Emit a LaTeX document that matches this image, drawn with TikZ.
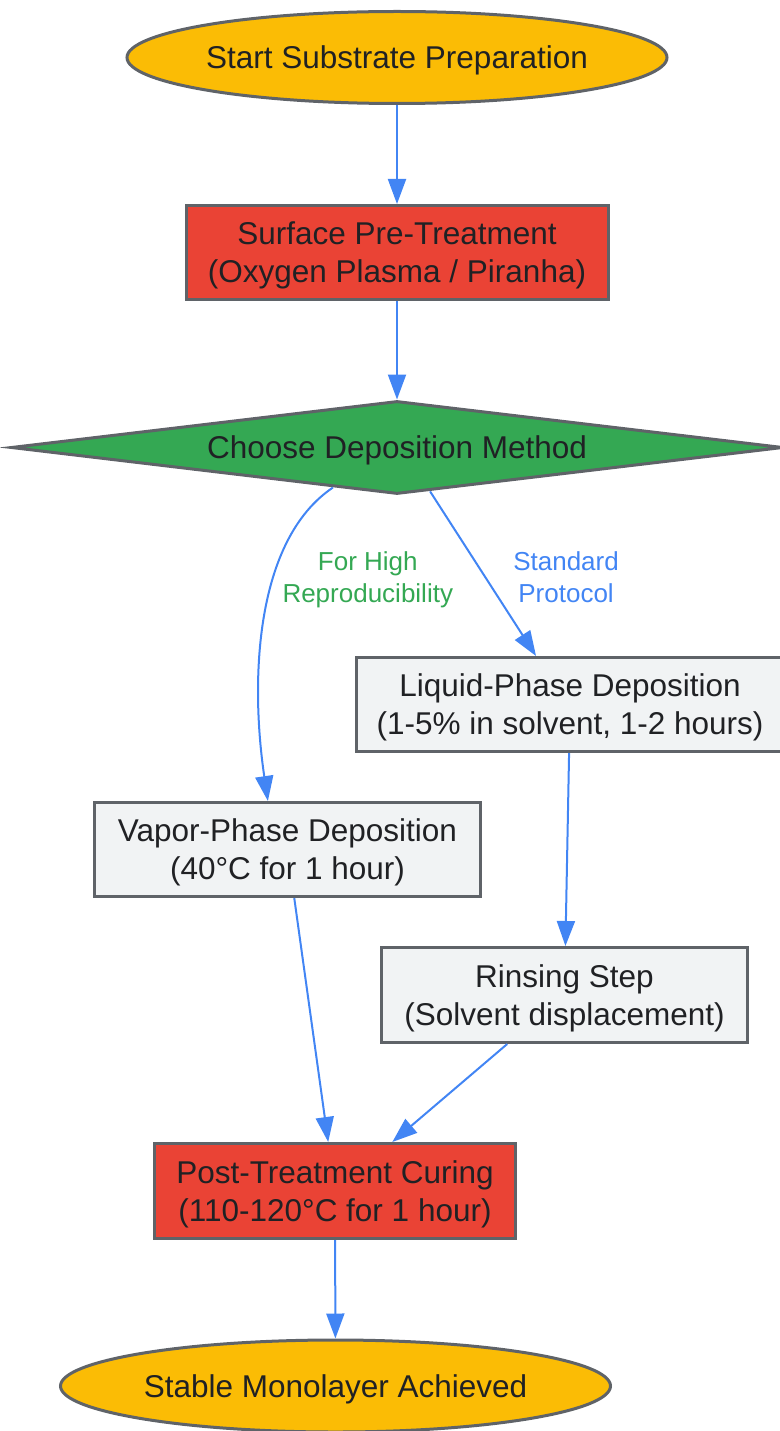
\documentclass[tikz,border=0pt]{standalone}
\usepackage{fontspec}
\setmainfont{Liberation Sans}
\usetikzlibrary{shapes.geometric,arrows.meta}
\definecolor{gyellow}{HTML}{FBBC05}
\definecolor{gred}{HTML}{EA4335}
\definecolor{ggreen}{HTML}{34A853}
\definecolor{gblue}{HTML}{4285F4}
\definecolor{glight}{HTML}{F1F3F4}
\definecolor{gedge}{HTML}{5F6368}
\definecolor{gtext}{HTML}{202124}
\tikzset{every node/.style={align=center}, >={Triangle[length=25pt,width=18pt]}, font=\fontsize{31.5}{38}\selectfont,
  terminal/.style={ellipse, draw=gedge, line width=3pt, fill=gyellow, text=gtext, inner sep=0pt, text depth=0pt, minimum height=92pt},
  stepbox/.style={rectangle, draw=gedge, line width=3pt, fill=glight, text=gtext, inner sep=0pt, text depth=0pt, minimum height=94pt},
  keystep/.style={stepbox, fill=gred},
  choice/.style={diamond, shape aspect=8, draw=gedge, line width=3pt, fill=ggreen, text=gtext, inner sep=0pt, text depth=0pt, minimum width=772pt, minimum height=93pt},
  link/.style={->, draw=gblue, line width=2pt},
  lbl/.style={font=\fontsize{26}{32}\selectfont}}

\begin{document}
\begin{tikzpicture}[x=1pt, y=-1pt, node distance=195pt]
    \useasboundingbox (0,0) rectangle (779,1431);
    \node [terminal, minimum width=540pt] (start) at (397,57.5) {Start Substrate Preparation};
    \node [keystep, minimum width=422pt] (pre) [below of = start] {Surface Pre-Treatment\\(Oxygen Plasma / Piranha)};
    \node [choice] (dec) [below of = pre] {Choose Deposition Method};
    \node [stepbox, minimum width=427pt] (liq) at (570,704.5) {Liquid-Phase Deposition\\(1-5\% in solvent, 1-2 hours)};
    \node [stepbox, minimum width=386pt] (vap) at (287.5,849.5) {Vapor-Phase Deposition\\(40°C for 1 hour)};
    \node [stepbox, minimum width=366pt, minimum height=95pt] (rin) at (564.5,995) {Rinsing Step\\(Solvent displacement)};
    \node [keystep, minimum width=361pt, minimum height=95pt] (cur) at (335,1191) {Post-Treatment Curing\\(110-120°C for 1 hour)};
    \node [terminal, minimum width=550pt] (fin) at (335.5,1386) {Stable Monolayer Achieved};
    \draw [link] (start) -- (pre);
    \draw [link] (pre) -- (dec);
    \draw [link] (dec.-148) .. controls (255,540) and (250,680) .. (vap.112)
        node [lbl, text=ggreen, pos=0.36, xshift=93pt, yshift=-7pt] {For High\\Reproducibility};
    \draw [link] (dec.-53) -- (liq.125)
        node [lbl, text=gblue, midway, xshift=83pt, yshift=-4pt] {Standard\\Protocol};
    \draw [link] (liq) -- (rin);
    \draw [link] (vap) -- (cur);
    \draw [link] (rin) -- (cur);
    \draw [link] (cur) -- (fin);
\end{tikzpicture}
\end{document}
